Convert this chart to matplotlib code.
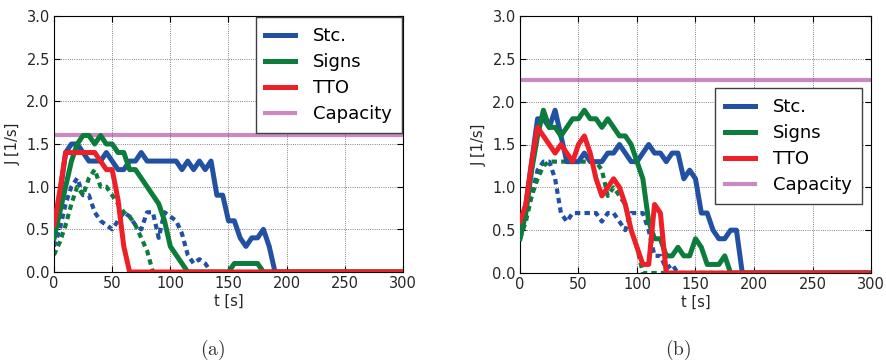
import numpy as np
import matplotlib
matplotlib.use("Agg")
import matplotlib.pyplot as plt

plt.rcParams["font.family"] = "DejaVu Sans"
plt.rcParams["mathtext.fontset"] = "cm"

# tiempo [s], muestreado cada 5 s
t = np.arange(0, 305, 5)

# ---- panel (a) ----
stc_a = [0.4, 0.9, 1.4, 1.5, 1.5, 1.4, 1.3, 1.3, 1.3, 1.4,
         1.3, 1.2, 1.2, 1.3, 1.3, 1.4, 1.3, 1.3, 1.3, 1.3,
         1.3, 1.3, 1.2, 1.3, 1.2, 1.3, 1.2, 1.3, 0.9, 0.9,
         0.6, 0.6, 0.4, 0.3, 0.4, 0.4, 0.5, 0.3, 0.0, 0.0,
         0, 0, 0, 0, 0, 0, 0, 0, 0, 0,
         0, 0, 0, 0, 0, 0, 0, 0, 0, 0,
         0]
signs_a = [0.4, 0.7, 1.0, 1.3, 1.5, 1.6, 1.6, 1.5, 1.6, 1.5,
           1.5, 1.4, 1.4, 1.2, 1.2, 1.1, 1.0, 0.9, 0.8, 0.6,
           0.3, 0.2, 0.1, 0.0, 0, 0, 0, 0, 0, 0,
           0.0, 0.1, 0.1, 0.1, 0.1, 0.1, 0.0, 0, 0, 0,
           0, 0, 0, 0, 0, 0, 0, 0, 0, 0,
           0, 0, 0, 0, 0, 0, 0, 0, 0, 0,
           0]
tto_a = [0.55, 0.95, 1.4, 1.4, 1.4, 1.4, 1.4, 1.4, 1.3, 1.2,
         1.2, 0.85, 0.3, 0.0, 0, 0, 0, 0, 0, 0,
         0, 0, 0, 0, 0, 0, 0, 0, 0, 0,
         0, 0, 0, 0, 0, 0, 0, 0, 0, 0,
         0, 0, 0, 0, 0, 0, 0, 0, 0, 0,
         0, 0, 0, 0, 0, 0, 0, 0, 0, 0,
         0]
stc_a_sim = [0.3, 0.5, 0.8, 1.0, 1.1, 0.9, 0.9, 0.7, 0.6, 0.55,
             0.5, 0.6, 0.7, 0.65, 0.55, 0.5, 0.7, 0.7, 0.4, 0.7,
             0.65, 0.6, 0.45, 0.2, 0.1, 0.15, 0.1, 0.0, 0, 0,
             0, 0, 0, 0, 0, 0, 0, 0, 0, 0,
             0, 0, 0, 0, 0, 0, 0, 0, 0, 0,
             0, 0, 0, 0, 0, 0, 0, 0, 0, 0,
             0]
signs_a_sim = [0.2, 0.35, 0.55, 0.8, 1.0, 0.9, 1.1, 1.2, 1.0, 1.0,
               0.9, 0.8, 0.7, 0.65, 0.55, 0.4, 0.25, 0.0, 0, 0,
               0, 0, 0, 0, 0, 0, 0, 0, 0, 0,
               0, 0, 0, 0, 0, 0, 0, 0, 0, 0,
               0, 0, 0, 0, 0, 0, 0, 0, 0, 0,
               0, 0, 0, 0, 0, 0, 0, 0, 0, 0,
               0]
cap_a = 1.6

# ---- panel (b) ----
stc_b = [0.5, 0.8, 1.3, 1.8, 1.8, 1.7, 1.9, 1.6, 1.3, 1.3,
         1.3, 1.4, 1.3, 1.3, 1.3, 1.4, 1.4, 1.5, 1.4, 1.3,
         1.3, 1.4, 1.5, 1.4, 1.4, 1.3, 1.4, 1.4, 1.1, 1.2,
         1.1, 0.7, 0.7, 0.5, 0.4, 0.4, 0.5, 0.5, 0.0, 0.0,
         0, 0, 0, 0, 0, 0, 0, 0, 0, 0,
         0, 0, 0, 0, 0, 0, 0, 0, 0, 0,
         0]
signs_b = [0.4, 0.7, 1.2, 1.6, 1.9, 1.7, 1.7, 1.6, 1.7, 1.8,
           1.8, 1.9, 1.8, 1.8, 1.7, 1.8, 1.7, 1.6, 1.6, 1.5,
           1.3, 1.1, 0.6, 0.4, 0.4, 0.2, 0.2, 0.3, 0.2, 0.2,
           0.4, 0.3, 0.1, 0.1, 0.1, 0.2, 0.0, 0, 0, 0,
           0, 0, 0, 0, 0, 0, 0, 0, 0, 0,
           0, 0, 0, 0, 0, 0, 0, 0, 0, 0,
           0]
tto_b = [0.6, 0.8, 1.3, 1.7, 1.6, 1.5, 1.4, 1.5, 1.4, 1.3,
         1.5, 1.6, 1.4, 1.1, 0.9, 1.0, 1.1, 1.0, 0.8, 0.5,
         0.3, 0.1, 0.1, 0.8, 0.7, 0.0, 0, 0, 0, 0,
         0, 0, 0, 0, 0, 0, 0, 0, 0, 0,
         0, 0, 0, 0, 0, 0, 0, 0, 0, 0,
         0, 0, 0, 0, 0, 0, 0, 0, 0, 0,
         0]
stc_b_sim = [0.4, 0.7, 0.9, 1.2, 1.3, 1.3, 1.1, 0.7, 0.6, 0.7,
             0.7, 0.7, 0.7, 0.7, 0.6, 0.7, 0.7, 0.6, 0.5, 0.7,
             0.7, 0.7, 0.5, 0.2, 0.2, 0.05, 0.1, 0.0, 0, 0,
             0, 0, 0, 0, 0, 0, 0, 0, 0, 0,
             0, 0, 0, 0, 0, 0, 0, 0, 0, 0,
             0, 0, 0, 0, 0, 0, 0, 0, 0, 0,
             0]
signs_b_sim = [0.4, 0.6, 0.9, 1.1, 1.25, 1.3, 1.3, 1.3, 1.3, 1.3,
               1.3, 1.3, 1.3, 1.3, 1.2, 0.9, 1.0, 0.9, 0.8, 0.5,
               0.3, 0.0, 0, 0, 0, 0, 0, 0, 0, 0,
               0, 0, 0, 0, 0, 0, 0, 0, 0, 0,
               0, 0, 0, 0, 0, 0, 0, 0, 0, 0,
               0, 0, 0, 0, 0, 0, 0, 0, 0, 0,
               0]
cap_b = 2.25

AZUL = "#2250a2"
VERDE = "#0b7c3c"
ROJO = "#ee1f27"
ROSA = "#cc88c0"
PUNTOS = (0, (1.3, 1.0))


def dibujar(ax, stc, signs, tto, stc_sim, signs_sim, cap):
    ax.axhline(cap, color=ROSA, lw=3.0, label="Capacity", zorder=1)
    ax.plot(t, stc_sim, color=AZUL, lw=3.0, linestyle=PUNTOS, zorder=2)
    ax.plot(t, signs_sim, color=VERDE, lw=3.0, linestyle=PUNTOS, zorder=2)
    ax.plot(t, stc, color=AZUL, lw=3.6, label="Stc.", zorder=3)
    ax.plot(t, signs, color=VERDE, lw=3.6, label="Signs", zorder=3)
    ax.plot(t, tto, color=ROJO, lw=3.6, label="TTO", zorder=3)
    ax.set_xlim(0, 300)
    ax.set_ylim(0, 3.0)
    ax.set_xticks(np.arange(0, 301, 50))
    ax.set_yticks(np.arange(0, 3.01, 0.5))
    ax.yaxis.set_major_formatter(matplotlib.ticker.FormatStrFormatter("%.1f"))
    ax.grid(True, color="0.35", linestyle=":", linewidth=0.6)
    ax.tick_params(direction="in", top=True, right=True, length=4,
                   labelsize=10.5, pad=3, labelcolor="0.15")
    ax.set_xlabel("t [s]", fontsize=10.5, labelpad=2, color="0.15")
    ax.set_ylabel("J [1/s]", fontsize=10.5, labelpad=4, color="0.15")
    h, l = ax.get_legend_handles_labels()
    orden = [1, 2, 3, 0]
    return [h[i] for i in orden], [l[i] for i in orden]


fig = plt.figure(figsize=(8.87, 3.64), dpi=100)
ax1 = fig.add_axes([54 / 887, 92 / 364, 349 / 887, 256 / 364])
ax2 = fig.add_axes([520 / 887, 91 / 364, 351 / 887, 257 / 364])

h, l = dibujar(ax1, stc_a, signs_a, tto_a, stc_a_sim, signs_a_sim, cap_a)
ax1.legend(h, l, loc="upper right", bbox_to_anchor=(1.0, 1.0),
           borderaxespad=0.05, fontsize=13, fancybox=False,
           edgecolor="0.25", framealpha=1, handlelength=1.65,
           handletextpad=1.0, labelspacing=0.45, borderpad=0.55)

h, l = dibujar(ax2, stc_b, signs_b, tto_b, stc_b_sim, signs_b_sim, cap_b)
ax2.legend(h, l, loc="upper right", bbox_to_anchor=(0.974, 0.72),
           borderaxespad=0.0, fontsize=13, fancybox=False,
           edgecolor="0.25", framealpha=1, handlelength=1.65,
           handletextpad=1.0, labelspacing=0.45, borderpad=0.55)

fig.text(213 / 887, 1 - 350 / 364, r"$\mathrm{(a)}$", fontsize=14,
         ha="center", va="center", color="0.2")
fig.text(678 / 887, 1 - 350 / 364, r"$\mathrm{(b)}$", fontsize=14,
         ha="center", va="center", color="0.2")

plt.savefig("out.png", dpi=100)
plt.close()
